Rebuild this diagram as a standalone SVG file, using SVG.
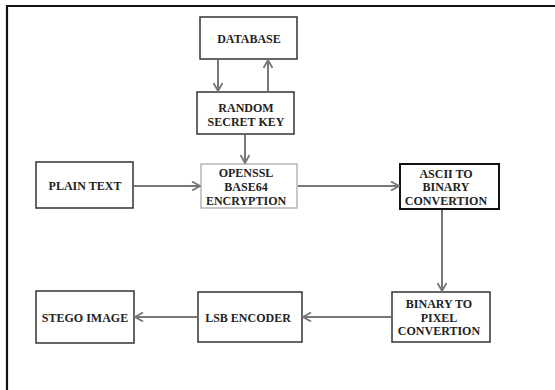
<svg xmlns="http://www.w3.org/2000/svg" width="555" height="390" viewBox="0 0 555 390">
<defs>
<marker id="ah" viewBox="0 0 10 10" refX="9" refY="5" markerWidth="10" markerHeight="10" markerUnits="userSpaceOnUse" orient="auto">
<path d="M1,0.5 L9,5 L1,9.5" fill="none" stroke="#777" stroke-width="1.8"/>
</marker>
</defs>
<style>
.box{fill:#fff;stroke:#333;stroke-width:1.5}
.lt{stroke:#aaa;stroke-width:1.3}
.dk{stroke:#111;stroke-width:2}
text{font-family:"Liberation Serif","Times New Roman",serif;font-weight:bold;font-size:12px;fill:#222;text-anchor:middle}
.c line{stroke:#777;stroke-width:2;marker-end:url(#ah)}
</style>
<rect width="555" height="390" fill="#fff"/>
<path d="M7,390 V6 H555" fill="none" stroke="#111" stroke-width="2.2"/>
<g id="database"><rect class="box" x="200" y="17" width="97" height="42"/><text x="249" y="43">DATABASE</text></g>
<g id="random-key"><rect class="box" x="197" y="92" width="97" height="42"/><text x="246" y="111.5">RANDOM</text><text x="246" y="125.5">SECRET KEY</text></g>
<g id="openssl"><rect class="box lt" x="201" y="164" width="96" height="44"/><text x="246" y="177">OPENSSL</text><text x="246" y="191">BASE64</text><text x="246" y="204.5">ENCRYPTION</text></g>
<g id="plain-text"><rect class="box" x="36" y="162" width="97" height="46"/><text x="85" y="190">PLAIN TEXT</text></g>
<g id="ascii"><rect class="box dk" x="400" y="164" width="99" height="45"/><text x="446" y="177.5">ASCII TO</text><text x="446" y="191">BINARY</text><text x="446" y="205">CONVERTION</text></g>
<g id="binary-pixel"><rect class="box" x="392" y="292" width="98" height="50"/><text x="439" y="308.3">BINARY TO</text><text x="439" y="321.7">PIXEL</text><text x="439" y="335">CONVERTION</text></g>
<g id="lsb"><rect class="box" x="198" y="292" width="104" height="50"/><text x="248" y="322">LSB ENCODER</text></g>
<g id="stego"><rect class="box" x="36" y="291" width="98" height="52"/><text x="85" y="322">STEGO IMAGE</text></g>
<g id="connectors" class="c">
<line x1="218" y1="60" x2="218" y2="91"/>
<line x1="268" y1="91" x2="268" y2="60"/>
<line x1="245" y1="135" x2="245" y2="163"/>
<line x1="134" y1="186" x2="200" y2="186"/>
<line x1="298" y1="186" x2="399" y2="186"/>
<line x1="442" y1="210" x2="442" y2="291"/>
<line x1="391" y1="317" x2="303" y2="317"/>
<line x1="197" y1="317" x2="135" y2="317"/>
</g>
</svg>
